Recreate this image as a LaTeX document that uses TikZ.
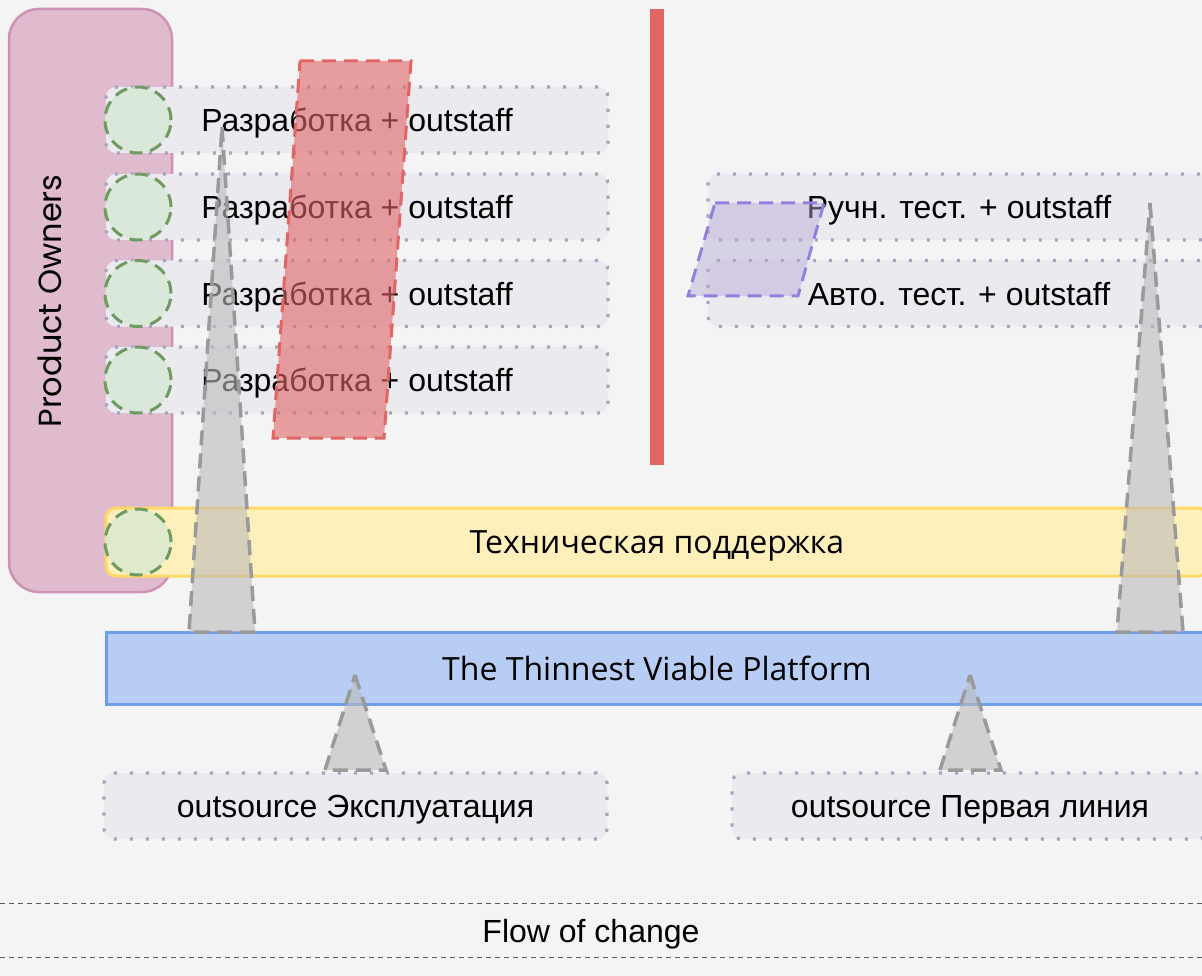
\documentclass[tikz,border=0pt]{standalone}
\usepackage{fontspec}
\setmainfont{Liberation Sans}
\newfontfamily\poppinsf{Poppins}
\newfontfamily\opensansf{Open Sans}
\definecolor{bgc}{HTML}{F4F4F4}
\definecolor{pinkfill}{HTML}{E0BBCD}
\definecolor{pinkline}{HTML}{CD93B4}
\definecolor{rowfill}{HTML}{EBEAEF}
\definecolor{rowline}{HTML}{A7A6C0}
\definecolor{greenfill}{HTML}{D5E8D4}
\definecolor{greenline}{HTML}{6F9A62}
\definecolor{redc}{HTML}{E06666}
\definecolor{purpfill}{HTML}{B4A7D6}
\definecolor{purpline}{HTML}{9280E0}
\definecolor{yelfill}{HTML}{FFF0BB}
\definecolor{yelline}{HTML}{FFD966}
\definecolor{bluefill}{HTML}{B7CDF3}
\definecolor{blueline}{HTML}{6D9EEB}
\definecolor{trifill}{HTML}{BBBBBB}
\definecolor{triline}{HTML}{9A9A9A}
\begin{document}
\begin{tikzpicture}[x=1pt,y=-1pt,
  txt/.style={font=\fontsize{32}{38}\selectfont, text=black, text depth=0pt},
  pobox/.style={rectangle, rounded corners=30pt, fill=pinkfill, draw=pinkline, line width=2.5pt, minimum width=163pt, minimum height=583pt, inner sep=0pt},
  rowbox/.style={rectangle, rounded corners=10pt, fill=rowfill, draw=rowline, line width=3.2pt, dash pattern=on 3.2pt off 12.8pt, minimum height=66pt, inner sep=0pt, txt},
  circ/.style={circle, fill=greenfill, fill opacity=0.75, text opacity=1, draw=greenline, draw opacity=1, line width=3pt, dash pattern=on 13pt off 8pt, minimum size=66pt, inner sep=0pt},
  yelbox/.style={rectangle, rounded corners=10pt, fill=yelfill, draw=yelline, line width=3pt, minimum height=68pt, inner sep=0pt, text depth=0pt, font=\opensansf\fontsize{32}{38}\selectfont},
  bluebox/.style={rectangle, fill=bluefill, draw=blueline, line width=3pt, minimum height=72pt, inner sep=0pt, text depth=0pt, font=\opensansf\fontsize{32}{38}\selectfont},
  tri/.style={fill=trifill, fill opacity=0.6, draw=triline, draw opacity=1, line width=3.5pt, dash pattern=on 15pt off 8pt},
  redpar/.style={fill=redc, fill opacity=0.6, draw=redc, draw opacity=1, line width=3pt, dash pattern=on 14pt off 8pt},
  purppar/.style={fill=purpfill, fill opacity=0.45, draw=purpline, draw opacity=1, line width=3pt, dash pattern=on 14pt off 8pt},
  flowline/.style={draw=black!65, line width=1pt, dash pattern=on 5pt off 4pt}
]
\useasboundingbox (0,0) rectangle (1202,976);
\clip (0,0) rectangle (1202,976);
\fill[bgc] (0,0) rectangle (1202,976);

% Product owners
\node[pobox] (po) at (90.5,300.5) {};
\node[rotate=90, font=\poppinsf\fontsize{32}{38}\selectfont] (potext) at (50,301) {Product Owners};

% dev rows
\node[rowbox, minimum width=502pt] (d1) at (357,120) {Разработка + outstaff};
\node[rowbox, minimum width=502pt] (d2) at (357,207) {Разработка + outstaff};
\node[rowbox, minimum width=502pt] (d3) at (357,293.5) {Разработка + outstaff};
\node[rowbox, minimum width=502pt] (d4) at (357,380) {Разработка + outstaff};

% test rows
\node[rowbox, minimum width=502pt] (t1) at (959,207) {Ручн. тест. + outstaff};
\node[rowbox, minimum width=502pt] (t2) at (959,293.5) {Авто. тест. + outstaff};

% red bar
\node[rectangle, fill=redc, minimum width=14pt, minimum height=456pt, inner sep=0pt] (bar) at (657,237) {};

% tech support and platform
\node[yelbox, minimum width=1102pt] (ts) at (657,542) {Техническая поддержка};
\node[bluebox, minimum width=1102pt] (tvp) at (657,668) {The Thinnest Viable Platform};

% circles
\node[circ] (c1) at (138,120) {};
\node[circ] (c2) at (138,207) {};
\node[circ] (c3) at (138,293.5) {};
\node[circ] (c4) at (138,380) {};
\node[circ] (c5) at (138,542) {};

% bottom boxes
\node[rowbox, minimum width=503pt] (ops) at (355.5,806) {outsource Эксплуатация};
\node[rowbox, minimum width=476pt] (fl) at (970,806) {outsource Первая линия};

% red parallelogram
\coordinate (r1) at (300,61);
\coordinate (r2) at (411,61);
\coordinate (r3) at (384,438);
\coordinate (r4) at (273,438);
\draw[redpar] (r1) -- (r2) -- (r3) -- (r4) -- cycle;

% purple parallelogram
\coordinate (p1) at (715,203);
\coordinate (p2) at (824,203);
\coordinate (p3) at (798,296);
\coordinate (p4) at (688,296);
\draw[purppar] (p1) -- (p2) -- (p3) -- (p4) -- cycle;

% triangles
\coordinate (ta1) at (222,127);
\coordinate (tb1) at (189,632);
\coordinate (tc1) at (255,632);
\draw[tri] (ta1) -- (tc1) -- (tb1) -- cycle;
\coordinate (ta2) at (1150,203);
\coordinate (tb2) at (1117,632);
\coordinate (tc2) at (1183,632);
\draw[tri] (ta2) -- (tc2) -- (tb2) -- cycle;
\coordinate (ta3) at (355,675);
\coordinate (tb3) at (325,770);
\coordinate (tc3) at (386,770);
\draw[tri] (ta3) -- (tc3) -- (tb3) -- cycle;
\coordinate (ta4) at (970,675);
\coordinate (tb4) at (940,770);
\coordinate (tc4) at (1001,770);
\draw[tri] (ta4) -- (tc4) -- (tb4) -- cycle;

% flow of change
\coordinate (fa) at (0,903);
\coordinate (fb) at (1202,903);
\coordinate (fc) at (0,957);
\coordinate (fd) at (1202,957);
\draw[flowline] (fa) -- (fb);
\draw[flowline] (fc) -- (fd);
\node[txt] (flow) at (591,931) {Flow of change};
\end{tikzpicture}
\end{document}
